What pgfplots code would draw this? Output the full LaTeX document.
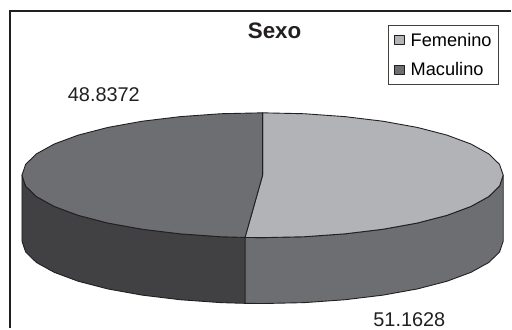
\documentclass[border=0pt]{standalone}
\usepackage{fontspec}
\setmainfont{Liberation Sans}
\usepackage{pgfplots}
\pgfplotsset{compat=1.18}
\definecolor{inkdark}{HTML}{231F20}
\definecolor{sliceF}{HTML}{B1B3B6}
\definecolor{sliceM}{HTML}{6D6E71}
\definecolor{wallF}{HTML}{6D6E71}
\definecolor{wallM}{HTML}{414042}
\begin{document}
\begin{tikzpicture}
\begin{axis}[
  scale only axis, width=512bp, height=329bp,
  xmin=0, xmax=512, ymin=0, ymax=329, y dir=reverse,
  hide axis, clip=false,
  legend cell align=left,
  legend image code/.code={\draw[#1,line width=0.9bp] (0bp,-4.5bp) rectangle (9.5bp,4.5bp);},
  legend style={
    at={(axis cs:389,25.5)}, anchor=north west,
    draw=wallM, line width=0.8bp, fill=white,
    font=\fontsize{18.3}{20}\selectfont,
    inner xsep=5.5bp, inner ysep=5.5bp,
    row sep=12bp,
    nodes={inner sep=1.5bp},
    /tikz/every odd column/.append style={column sep=4.5bp},
  },
]
% Full drawing area, so that the page keeps its margins
\path (axis cs:0,0) (axis cs:512,329);

% Chart frame: open on the right and at the bottom
\draw[inkdark, line width=1.6bp] (axis cs:10,329) -- (axis cs:10,11) -- (axis cs:512,11);

% Outer walls of the disc (depth 66), split at 51.1628 % of the turn
\addplot[forget plot, fill=wallF, draw=inkdark, line width=0.9bp, line join=round] coordinates {
  (504,175.5) (500.3,186.4) (489.5,196.9) (471.7,206.75) (447.6,215.7) (417.9,223.4)
  (383.5,229.6) (345.4,234.2) (304.8,237.1) (263,238) (245.4,237.8)
  (245.4,303.8) (263,304) (304.8,303.1) (345.4,300.2) (383.5,295.6) (417.9,289.4)
  (447.6,281.7) (471.7,272.75) (489.5,262.9) (500.3,252.4) (504,241.5)
} --cycle;
\addplot[forget plot, fill=wallM, draw=inkdark, line width=0.9bp, line join=round] coordinates {
  (245.4,237.8) (221.2,237.1) (180.6,234.2) (142.5,229.6) (108.1,223.4) (78.4,215.7)
  (54.3,206.75) (36.5,196.9) (25.7,186.4) (22,175.5)
  (22,241.5) (25.7,252.4) (36.5,262.9) (54.3,272.75) (78.4,281.7) (108.1,289.4)
  (142.5,295.6) (180.6,300.2) (221.2,303.1) (245.4,303.8)
} --cycle;

% Top face: Femenino 51.1628, clockwise from twelve o'clock
\addplot[fill=sliceF, draw=inkdark, line width=0.9bp, line join=round] coordinates {
  (263,175.5) (263,113) (304.8,113.9) (345.4,116.8) (383.5,121.4) (417.9,127.6)
  (447.6,135.3) (471.7,144.25) (489.5,154.1) (500.3,164.6) (504,175.5)
  (500.3,186.4) (489.5,196.9) (471.7,206.75) (447.6,215.7) (417.9,223.4)
  (383.5,229.6) (345.4,234.2) (304.8,237.1) (263,238) (245.4,237.8)
} --cycle;
\addlegendentry{Femenino}

% Top face: Maculino 48.8372
\addplot[fill=sliceM, draw=inkdark, line width=0.9bp, line join=round] coordinates {
  (263,175.5) (245.4,237.8) (221.2,237.1) (180.6,234.2) (142.5,229.6) (108.1,223.4)
  (78.4,215.7) (54.3,206.75) (36.5,196.9) (25.7,186.4) (22,175.5)
  (25.7,164.6) (36.5,154.1) (54.3,144.25) (78.4,135.3) (108.1,127.6)
  (142.5,121.4) (180.6,116.8) (221.2,113.9) (263,113)
} --cycle;
\addlegendentry{Maculino}

% Title and value labels
\node[inkdark, font=\fontsize{22.5}{24}\selectfont\bfseries] at (axis cs:275,31) {Sexo};
\node[inkdark, font=\fontsize{20}{22}\selectfont] at (axis cs:104,94.5) {48.8372};
\node[inkdark, font=\fontsize{20}{22}\selectfont] at (axis cs:410,320) {51.1628};
\end{axis}
\end{tikzpicture}
\end{document}
